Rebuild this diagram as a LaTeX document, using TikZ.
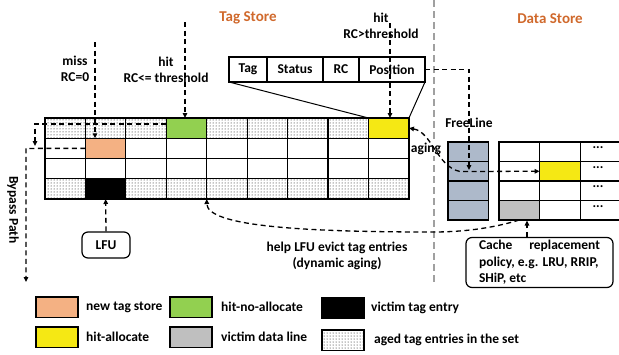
\documentclass[tikz,border=0pt]{standalone}
\usepackage{fontspec}
\setmainfont{Carlito}
\usetikzlibrary{patterns,arrows.meta,calc}

\definecolor{newtag}{HTML}{F4B183}
\definecolor{hitnoalloc}{HTML}{92D050}
\definecolor{hitalloc}{HTML}{F5E814}
\definecolor{victimdata}{HTML}{BFBFBF}
\definecolor{freeline}{HTML}{ADB9CA}
\definecolor{titlecol}{HTML}{D0692C}
\definecolor{divider}{HTML}{A0A0A0}

\begin{document}
\begin{tikzpicture}[x=1pt,y=-1pt,
  font=\bfseries\fontsize{13.5}{16.5}\selectfont,
  cell/.style={draw, line width=1.2pt, minimum width=40.44pt, minimum height=20.25pt,
               inner sep=0pt, outer sep=0pt, anchor=north west},
  dcell/.style={draw, line width=1.2pt, minimum width=40.6pt, minimum height=19.5pt,
               inner sep=0pt, outer sep=0pt, anchor=north west},
  field/.style={draw, line width=1.2pt, minimum height=25pt, inner sep=0pt,
               outer sep=0pt, anchor=north west},
  aged/.style={pattern=dots},
  blankcell/.style={fill=white},
  fillnew/.style={fill=newtag},
  fillhna/.style={fill=hitnoalloc},
  fillha/.style={fill=hitalloc},
  fillvic/.style={fill=black},
  swatch/.style={draw, line width=1.2pt, minimum width=42pt, minimum height=20.5pt,
               inner sep=0pt, outer sep=0pt, anchor=north west},
  rbox/.style={draw, line width=1.2pt, rounded corners=6pt},
  tip/.tip={Triangle[length=5pt,width=4.5pt]},
  dline/.style={line width=1.3pt, dash pattern=on 5pt off 3.5pt},
  flow/.style={dline, -tip},
  title/.style={text=titlecol, font=\bfseries\fontsize{15}{17}\selectfont},
  legtext/.style={anchor=west, inner sep=0pt}
]
\useasboundingbox (0,0) rectangle (619,354);

% divider between tag store and data store
\coordinate (divTop) at (434,0);
\coordinate (divBot) at (434,283);
\draw[divider, line width=1.6pt, dash pattern=on 7pt off 4pt] (divTop) -- (divBot);

% titles
\node[title] (tagTitle) at (248,18) {Tag Store};
\node[title] (dataTitle) at (550,19) {Data Store};

% tag store set
\foreach \c/\s in {1/aged,2/aged,3/aged,4/fillhna,5/aged,6/aged,7/aged,8/aged,9/fillha}
  \node[cell,\s] (t1\c) at ({45+(\c-1)*40.44},118) {};
\foreach \c/\s in {1/blankcell,2/fillnew,3/blankcell,4/blankcell,5/blankcell,6/blankcell,7/blankcell,8/blankcell,9/blankcell}
  \node[cell,\s] (t2\c) at ({45+(\c-1)*40.44},138.25) {};
\foreach \c in {1,...,9}
  \node[cell,blankcell] (t3\c) at ({45+(\c-1)*40.44},158.5) {};
\foreach \c/\s in {1/aged,2/fillvic,3/aged,4/aged,5/aged,6/aged,7/aged,8/aged,9/aged}
  \node[cell,\s] (t4\c) at ({45+(\c-1)*40.44},178.75) {};

% tag entry fields
\node[field, minimum width=38pt] (fTag) at (229,57) {Tag};
\node[field, minimum width=56pt] (fStatus) at (267,57) {Status};
\node[field, minimum width=36pt] (fRC) at (323,57) {RC};
\node[field, minimum width=66pt] (fPos) at (359,57) {Position};
\draw[line width=1pt] (fTag.south west) -- (t19.north west);
\draw[line width=1pt] (fPos.south east) -- (t19.north east);

% data store
\foreach \r in {1,...,4}
  \node[dcell, fill=freeline] (f\r) at (448,{142+(\r-1)*19.5}) {};
\foreach \r in {1,...,4}{
  \node[dcell] (d\r1) at (499,{142+(\r-1)*19.5}) {};
  \node[dcell] (d\r2) at (539.6,{142+(\r-1)*19.5}) {};
  \node[dcell, minimum width=44pt] (d\r3) at (580.2,{142+(\r-1)*19.5}) {};
  \node (dots\r) at (598,{148+(\r-1)*19.5}) {...};
}
\node[dcell, fill=hitalloc] at (539.6,161.5) {};
\node[dcell, fill=victimdata] at (499,200.5) {};

% labels
\node[align=center] (missLbl) at (75,69) {miss\\RC=0};
\node[align=center] (hitLoLbl) at (166,70) {hit\\RC<= threshold};
\node[align=center] (hitHiLbl) at (381,26) {hit\\RC>threshold};
\node (freeLbl) at (469,123) {FreeLine};
\node[fill=white, inner sep=1pt] (agingLbl) at (426,149) {aging};
\node[rotate=-90] (bypassLbl) at (13,210) {Bypass Path};
\node[align=center] (helpLbl) at (337,256) {help LFU evict tag entries\\(dynamic aging)};

% miss: insert a new tag entry
\coordinate (missTop) at (95,42);
\draw[flow] (missTop) -- (missTop |- t22.north);

% hit with RC <= threshold
\coordinate (hitLoTop) at (185,22);
\draw[flow] (hitLoTop) -- (hitLoTop |- t14.north);

% hit-no-allocate goes to the bypass path
\coordinate (hnaStart) at ($(t14.north west)+(0,6)$);
\coordinate (hnaBend) at (35,124);
\coordinate (hnaEnd) at (35,146);
\draw[flow] (hnaStart) -- (hnaBend) -- (hnaEnd);

% bypass path
\coordinate (bpBend) at (26,148.4);
\coordinate (bpEnd) at (26,282);
\draw[flow] (t22.west) -- (bpBend) -- (bpEnd);

% hit with RC > threshold
\coordinate (hitHiTop) at (390,23);
\draw[flow] (hitHiTop) -- (hitHiTop |- t19.north);

% position field points to the free line
\coordinate (posBend) at (469,69.5);
\coordinate (freeEnd) at (469,170);
\draw[flow] (fPos.east) -- (posBend) -- (freeEnd);

% aging link between tag entry and data line
\coordinate (agC) at (460,171.5);
\draw[dline, tip-tip] (t19.east) .. controls (432,132) and (437,167) .. (agC) -- (d22.west);

% dynamic aging feedback
\coordinate (helpLow) at (433,232);
\draw[flow] (d41.south) .. controls (490,229) and (460,232) .. (helpLow)
  .. controls (300,232) and (207,226) .. (t45.south west);

% LFU selector
\node[rbox, minimum width=48pt, minimum height=26pt] (lfu) at (106,245) {LFU};
\draw[flow] (lfu.north) -- (t42.south);

% cache replacement policy
\node[rbox, text width=121pt, align=flush left, inner xsep=13pt, inner ysep=2pt,
      minimum height=50pt] (cache) at (539.5,262.5)
  {Cache\hfill replacement\\ policy, e.g. LRU, RRIP,\\ SHiP, etc};
\coordinate (crTip) at (527,220.5);
\draw[flow] (cache.north -| crTip) -- (crTip);

% legend
\node[swatch, fill=newtag] (lgNew) at (36,297) {};
\node[legtext] (lgNewT) at ($(lgNew.east)+(8,0)$) {new tag store};
\node[swatch, fill=hitnoalloc] (lgHna) at (170,297) {};
\node[legtext] (lgHnaT) at ($(lgHna.east)+(9,0)$) {hit-no-allocate};
\node[swatch, fill=black] (lgVic) at (322,298) {};
\node[legtext] (lgVicT) at ($(lgVic.east)+(7,0)$) {victim tag entry};
\node[swatch, fill=hitalloc] (lgHa) at (36,327) {};
\node[legtext] (lgHaT) at ($(lgHa.east)+(8,0)$) {hit-allocate};
\node[swatch, fill=victimdata] (lgVd) at (170,327) {};
\node[legtext] (lgVdT) at ($(lgVd.east)+(9,0)$) {victim data line};
\node[swatch, aged] (lgAged) at (322,330) {};
\node[legtext] (lgAgedT) at ($(lgAged.east)+(10,0)$) {aged tag entries in the set};
\end{tikzpicture}
\end{document}
